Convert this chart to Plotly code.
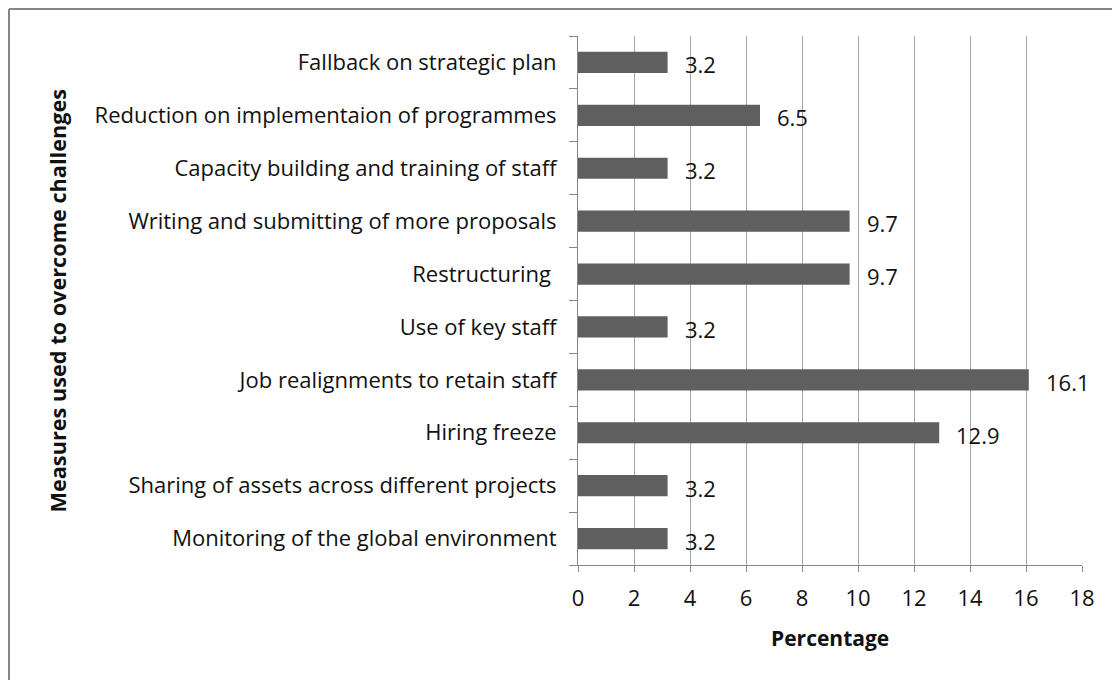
import plotly.graph_objects as go

categories = [
    "Monitoring of the global environment",
    "Sharing of assets across different projects",
    "Hiring freeze",
    "Job realignments to retain staff",
    "Use of key staff",
    "Restructuring ",
    "Writing and submitting of more proposals",
    "Capacity building and training of staff",
    "Reduction on implementaion of programmes",
    "Fallback on strategic plan",
]
values = [3.2, 3.2, 12.9, 16.1, 3.2, 9.7, 9.7, 3.2, 6.5, 3.2]
x_ticks = [0, 2, 4, 6, 8, 10, 12, 14, 16, 18]

FONT = "Open Sans"
TXT = "#111111"
W, H = 1120, 680
ml, mr, mt, mb = 570, 46, 28, 123
pw = W - ml - mr
ph = H - mt - mb

fig = go.Figure()
fig.add_trace(go.Bar(
    y=categories, x=values, orientation="h",
    marker=dict(color="#5f5f5f", line=dict(color="#5f5f5f", width=0)),
    hoverinfo="skip",
))
for c, v in zip(categories, values):
    fig.add_annotation(x=v, y=c, text=f"{v:.1f}", showarrow=False,
                       xanchor="left", xshift=15, yshift=-2,
                       font=dict(family=FONT, size=22, color=TXT))

fig.update_layout(
    width=W, height=H,
    margin=dict(l=ml, r=mr, t=mt, b=mb),
    paper_bgcolor="white", plot_bgcolor="white",
    showlegend=False, bargap=0.6,
    font=dict(family=FONT, size=22, color=TXT),
    xaxis=dict(
        range=[0, 18], tickvals=x_ticks, ticktext=[str(t) for t in x_ticks],
        showgrid=True, gridcolor="#a6a6a6", gridwidth=1,
        showline=True, linecolor="#868686", linewidth=1,
        ticks="outside", ticklen=6, tickcolor="#868686",
        tickfont=dict(family=FONT, size=22, color=TXT),
        ticklabelstandoff=8,
        zeroline=False, fixedrange=True,
    ),
    yaxis=dict(
        categoryorder="array", categoryarray=categories,
        showline=True, linecolor="#868686", linewidth=1,
        ticks="outside", ticklen=8, tickcolor="#868686", tickson="boundaries",
        tickfont=dict(family=FONT, size=22, color=TXT),
        ticklabelstandoff=16,
        showgrid=False, fixedrange=True,
    ),
)

# axis titles
fig.add_annotation(xref="paper", yref="paper", x=(49 - ml) / pw, y=0.5,
                   text="<b>Measures used to overcome challenges</b>", textangle=-90,
                   showarrow=False, xanchor="center", yanchor="middle",
                   font=dict(family=FONT, size=21.7, color=TXT))
fig.add_annotation(xref="paper", yref="paper", x=0.5, y=-(630 - (H - mb)) / ph,
                   text="<b>Percentage</b>",
                   showarrow=False, xanchor="center", yanchor="middle",
                   font=dict(family=FONT, size=21, color=TXT))

# chart-area border (top and left visible)
bx = (1 - ml) / pw
by = (H - mb - 1) / ph
fig.add_shape(type="line", xref="paper", yref="paper", x0=bx, x1=1.2, y0=by, y1=by,
              line=dict(color="#868686", width=2))
fig.add_shape(type="line", xref="paper", yref="paper", x0=bx, x1=bx, y0=-0.4, y1=by,
              line=dict(color="#868686", width=2))

fig.write_html("out.html")
